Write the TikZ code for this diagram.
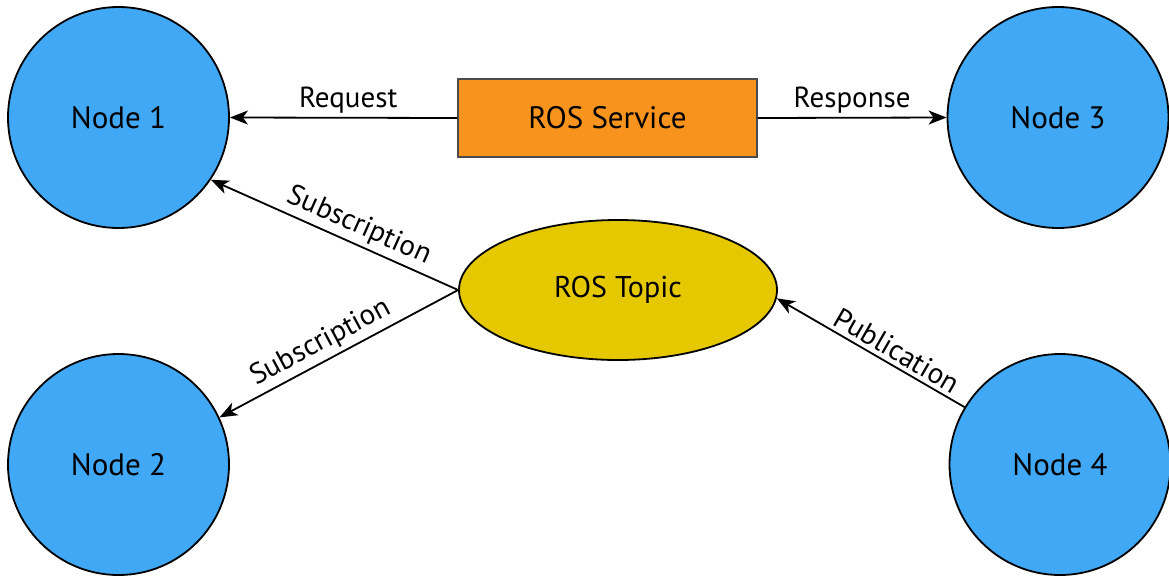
\documentclass[tikz,border=0pt]{standalone}
\usepackage{fontspec}
\setmainfont{PT Sans}
\usetikzlibrary{shapes.geometric,arrows.meta}
\definecolor{nodeblue}{RGB}{64,168,244}
\definecolor{srvorange}{RGB}{248,148,30}
\definecolor{topicyellow}{RGB}{230,200,0}
\tikzset{
  rosnode/.style={circle,draw=black,line width=1.8pt,fill=nodeblue,minimum size=221pt,inner sep=0pt,font=\fontsize{31}{36}\selectfont},
  srvbox/.style={rectangle,draw=black!70,line width=1.2pt,fill=srvorange,minimum width=299pt,minimum height=78pt,inner sep=0pt,font=\fontsize{31}{36}\selectfont},
  topicell/.style={ellipse,draw=black,line width=1.8pt,fill=topicyellow,minimum width=318pt,minimum height=140pt,inner sep=0pt,font=\fontsize{30}{36}\selectfont},
  conn/.style={line width=1.8pt,draw=black},
  >={Stealth[length=18pt,width=14pt,inset=5pt]},
  lbl/.style={font=\fontsize{29}{33}\selectfont,inner sep=4pt}
}
\begin{document}
\begin{tikzpicture}[x=1pt,y=-1pt]
\useasboundingbox (0,0) rectangle (1169,576);
\node[rosnode] (n1) at (118.5,117.5) {Node 1};
\node[rosnode] (n2) at (118.5,464.5) {Node 2};
\node[rosnode] (n3) at (1058,117.5) {Node 3};
\node[rosnode] (n4) at (1060,464.5) {Node 4};
\node[srvbox] (srv) at (607.5,118) {ROS Service};
\node[topicell] (top) at (618,290) {ROS Topic};
\draw[conn,<-] (n1.east) -- node[lbl,above,pos=0.52] {Request} (srv.west);
\draw[conn,->] (srv.east) -- node[lbl,above] {Response} (n3.west);
\draw[conn,<-] (n1.-34) -- node[lbl,sloped,above,pos=0.57] {Subscription} (top.west);
\draw[conn,<-] (n2.25) -- node[lbl,sloped,above,pos=0.46] {Subscription} (top.west);
\draw[conn,<-] (top.-3) -- node[lbl,sloped,above,pos=0.6] {Publication} (n4.149);
\end{tikzpicture}
\end{document}
